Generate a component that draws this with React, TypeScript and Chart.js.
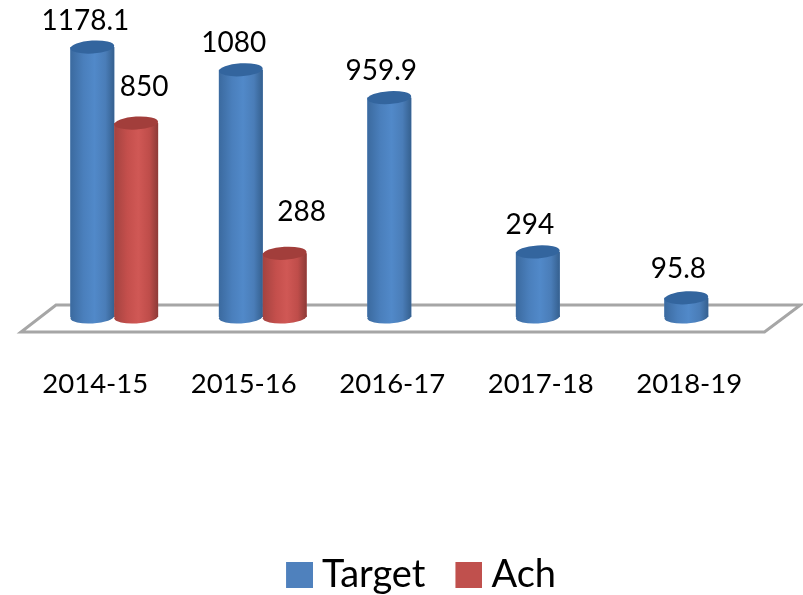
import React, { useEffect, useRef } from "react";
import { Chart, registerables } from "chart.js";

Chart.register(...registerables);

const categories = ["2014-15", "2015-16", "2016-17", "2017-18", "2018-19"];
const targetValues = [1178.1, 1080, 959.9, 294, 95.8];
const achValues: (number | null)[] = [850, 288, null, null, null];

const FONT = "Lato, Carlito, Calibri, sans-serif";
const legendColors = ["#4f81bd", "#c0504d"];

const shades = [
  { stops: ["#3b6a9f", "#4a7fbc", "#5189c9", "#4a7db8", "#35608f"], top: "#33659e" },
  { stops: ["#a44340", "#c44f4c", "#d05855", "#bf4d4a", "#8d3a37"], top: "#a23e3b" },
];
const stopAt = [0, 0.3, 0.55, 0.8, 1];

// per-dataset nudge of the value text from the top of its cylinder
const labelNudge = [
  [[-7, -26], [-7, -27], [-8, -27], [-8, -27], [-8, -29]],
  [[8, -36], [17, -41]],
];

// legend swatch: transparent left part so the square sits close to its text
function swatch(color: string) {
  const c = document.createElement("canvas");
  c.width = 37;
  c.height = 26;
  const g = c.getContext("2d")!;
  g.fillStyle = color;
  g.fillRect(10, 0, 27, 26);
  return c;
}

const cylinderPlugin = {
  id: "cylinder",
  beforeDatasetsDraw(chart: any) {
    const { ctx, chartArea: a } = chart;
    const topY = a.bottom - 15;
    const lowY = a.bottom + 12;
    ctx.save();
    ctx.beginPath();
    ctx.moveTo(a.left + 16, topY);
    ctx.lineTo(a.right + 18, topY);
    ctx.lineTo(a.right - 18, lowY);
    ctx.lineTo(a.left - 19, lowY);
    ctx.closePath();
    ctx.strokeStyle = "#a6a6a6";
    ctx.lineWidth = 3;
    ctx.stroke();
    ctx.restore();
  },
  afterDatasetsDraw(chart: any) {
    const { ctx } = chart;
    const ry = 6.5;
    const tilt = -0.06;
    chart.data.datasets.forEach((ds: any, d: number) => {
      const shade = shades[d];
      chart.getDatasetMeta(d).data.forEach((el: any, i: number) => {
        if (ds.data[i] == null) return;
        const left = el.x - el.width / 2;
        const rx = el.width / 2;
        const g = ctx.createLinearGradient(left, 0, left + el.width, 0);
        shade.stops.forEach((c: string, k: number) => g.addColorStop(stopAt[k], c));
        ctx.save();
        ctx.fillStyle = g;
        ctx.beginPath();
        ctx.ellipse(el.x, el.base, rx, ry, tilt, 0, Math.PI * 2);
        ctx.fill();
        ctx.fillRect(left, el.y, el.width, el.base - el.y);
        ctx.fillStyle = shade.top;
        ctx.beginPath();
        ctx.ellipse(el.x, el.y, rx, ry, tilt, 0, Math.PI * 2);
        ctx.fill();
        ctx.restore();
      });
    });
  },
  afterDraw(chart: any) {
    const { ctx } = chart;
    ctx.save();
    ctx.fillStyle = "#000";
    ctx.font = `28px ${FONT}`;
    ctx.textAlign = "center";
    ctx.textBaseline = "middle";
    chart.data.datasets.forEach((ds: any, d: number) => {
      chart.getDatasetMeta(d).data.forEach((el: any, i: number) => {
        if (ds.data[i] == null) return;
        const [dx, dy] = labelNudge[d][i];
        ctx.fillText(String(ds.data[i]), el.x + dx, el.y + dy);
      });
    });
    ctx.restore();
  },
};

export default function App() {
  const ref = useRef<HTMLCanvasElement>(null);
  useEffect(() => {
    document.body.style.margin = "0";
    const chart = new Chart(ref.current!, {
      type: "bar",
      data: {
        labels: categories,
        datasets: [
          { label: "Target", data: targetValues, backgroundColor: legendColors[0], base: 13 },
          { label: "Ach", data: achValues, backgroundColor: legendColors[1], base: 13 },
        ],
      },
      options: {
        responsive: false,
        animation: false,
        layout: { padding: { left: 36, right: -3, top: 42, bottom: -9 } },
        datasets: { bar: { barPercentage: 1, categoryPercentage: 88 / 149 } },
        scales: {
          x: {
            grid: { display: false },
            border: { display: false },
            ticks: {
              color: "#000",
              font: { family: FONT, size: 27.5 },
              padding: 40,
              labelOffset: -19,
              maxRotation: 0,
            },
            afterFit: (s: any) => { s.height += 85; },
          },
          y: {
            min: 0,
            max: 1200,
            grid: { display: false },
            border: { display: false },
            ticks: { display: false },
            afterFit: (s: any) => { s.width = 4; },
          },
          yRight: {
            position: "right",
            grid: { display: false },
            border: { display: false },
            ticks: { display: false },
            afterFit: (s: any) => { s.width = 21; },
          },
        },
        plugins: {
          tooltip: { enabled: false },
          legend: {
            position: "bottom",
            labels: {
              color: "#000",
              font: { family: FONT, size: 38 },
              boxWidth: 17,
              boxHeight: 26,
              padding: 30,
              usePointStyle: true,
              generateLabels: (c: any) =>
                Chart.defaults.plugins.legend.labels.generateLabels(c).map((item: any, i: number) => ({
                  ...item,
                  pointStyle: swatch(legendColors[i]),
                })),
            },
          },
        },
      } as any,
      plugins: [cylinderPlugin],
    });
    return () => chart.destroy();
  }, []);
  return <canvas ref={ref} width={803} height={595} style={{ display: "block" }} />;
}
